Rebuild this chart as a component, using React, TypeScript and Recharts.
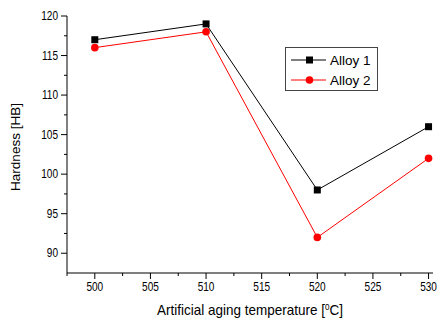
import React from "react";
import { LineChart, Line, XAxis, YAxis } from "recharts";

const temperatures = [500, 510, 520, 530];
const alloy1 = [117, 119, 98, 106];
const alloy2 = [116, 118, 92, 102];
const xTicks = [497.5, 500, 502.5, 505, 507.5, 510, 512.5, 515, 517.5, 520, 522.5, 525, 527.5, 530];
const yTicks = [90, 92.5, 95, 97.5, 100, 102.5, 105, 107.5, 110, 112.5, 115, 117.5, 120];

const data = temperatures.map((t, i) => ({ t, a1: alloy1[i], a2: alloy2[i] }));

const SANS = "'Liberation Sans', Arial, sans-serif";
const NARROW_SCALE = 0.84;

const XTick = (props: any) => {
  const { x, y, payload } = props;
  const v = payload.value;
  const major = Math.abs(v % 5) < 1e-6;
  return (
    <g>
      <line x1={x} y1={y} x2={x} y2={y + (major ? 6 : 3)} stroke="#000" strokeWidth={1} />
      {major && (
        <text
          transform={`translate(${x},${y + 18}) scale(${NARROW_SCALE},1)`}
          textAnchor="middle"
          fontFamily={SANS}
          fontSize={12}
          fill="#000"
        >
          {v}
        </text>
      )}
    </g>
  );
};

const YTick = (props: any) => {
  const { x, y, payload } = props;
  const v = payload.value;
  const major = Math.abs(v % 5) < 1e-6;
  return (
    <g>
      <line x1={x} y1={y} x2={x - (major ? 6 : 3)} y2={y} stroke="#000" strokeWidth={1} />
      {major && (
        <text
          transform={`translate(${x - 9},${y + 4}) scale(${NARROW_SCALE},1)`}
          textAnchor="end"
          fontFamily={SANS}
          fontSize={12}
          fill="#000"
        >
          {v}
        </text>
      )}
    </g>
  );
};

const Square = (props: any) => {
  const { cx, cy } = props;
  if (cx == null || cy == null) return null;
  return <rect x={cx - 3.5} y={cy - 3.5} width={7} height={7} fill="#000" />;
};

const Dot = (props: any) => {
  const { cx, cy } = props;
  if (cx == null || cy == null) return null;
  return <circle cx={cx} cy={cy} r={3.8} fill="#ff0000" />;
};

const LegendBox = () => (
  <svg width={94} height={45} style={{ display: "block" }}>
    <rect x={0.5} y={0.5} width={92} height={43} fill="#fff" stroke="#444" strokeWidth={1} />
    <line x1={6} y1={13} x2={41} y2={13} stroke="#000" strokeWidth={1} />
    <rect x={21} y={9.5} width={7} height={7} fill="#000" />
    <text x={45} y={18} fontFamily={SANS} fontSize={13.5} fill="#000">Alloy 1</text>
    <line x1={6} y1={33} x2={41} y2={33} stroke="#ff0000" strokeWidth={1} />
    <circle cx={24.5} cy={33} r={3.8} fill="#ff0000" />
    <text x={45} y={38} fontFamily={SANS} fontSize={13.5} fill="#000">Alloy 2</text>
  </svg>
);

export default function App() {
  return (
    <div style={{ position: "absolute", left: 0, top: 0, width: 437, height: 322, background: "#fff" }}>
      <LineChart width={437} height={322} data={data} margin={{ top: 16, right: 4, bottom: 0, left: 0 }}>
        <XAxis
          dataKey="t"
          type="number"
          domain={[497.5, 530.4]}
          ticks={xTicks}
          interval={0}
          tickLine={false}
          tickSize={0}
          tickMargin={0}
          tick={<XTick />}
          height={49}
          stroke="#000"
          allowDataOverflow
        />
        <YAxis
          type="number"
          domain={[87.5, 120]}
          ticks={yTicks}
          interval={0}
          tickLine={false}
          tickSize={0}
          tickMargin={0}
          tick={<YTick />}
          width={67}
          stroke="#000"
          allowDataOverflow
        />
        <Line dataKey="a1" name="Alloy 1" stroke="#000" strokeWidth={1} dot={<Square />} isAnimationActive={false} />
        <Line dataKey="a2" name="Alloy 2" stroke="#ff0000" strokeWidth={1} dot={<Dot />} isAnimationActive={false} />
        <text
          transform="translate(250,315) scale(0.9,1)"
          textAnchor="middle"
          fontFamily={SANS}
          fontSize={15}
          fill="#000"
        >
          Artificial aging temperature [<tspan fontSize={9} dy={-5}>0</tspan><tspan dy={5}>C]</tspan>
        </text>
        <text
          x={20}
          y={147}
          transform="rotate(-90 20 147)"
          textAnchor="middle"
          fontFamily={SANS}
          fontSize={13.5}
          fill="#000"
        >
          Hardness [HB]
        </text>
      </LineChart>
      <div style={{ position: "absolute", left: 285, top: 47 }}>
        <LegendBox />
      </div>
    </div>
  );
}
